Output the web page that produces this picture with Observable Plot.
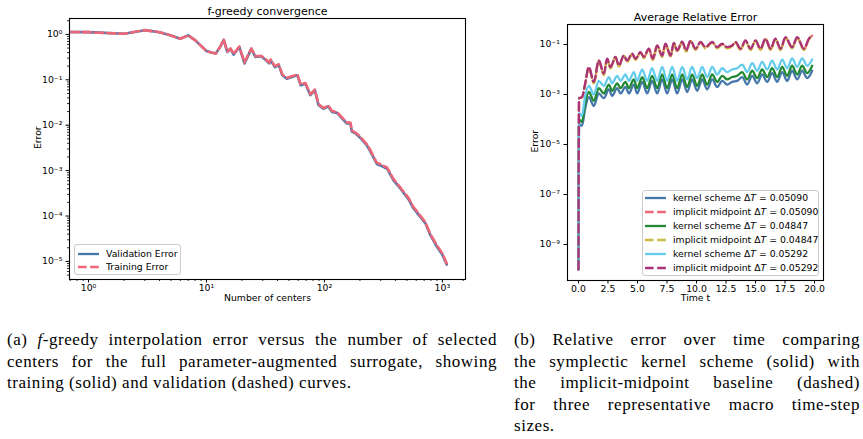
<!DOCTYPE html>
<html>
<head>
<meta charset="utf-8">
<script src="https://cdn.jsdelivr.net/npm/d3@7"></script>
<script src="https://cdn.jsdelivr.net/npm/@observablehq/plot@0.6"></script>
<style>
  html, body { margin: 0; padding: 0; background: #fff; }
  #fig { position: relative; width: 863px; height: 439px; overflow: hidden; background: #fff; }
  .panel { position: absolute; top: 0; }
  .legend { position: absolute; box-sizing: border-box; background: rgba(255,255,255,0.8);
            border: 1px solid #cccccc; border-radius: 3px; font: 9.3px "DejaVu Sans"; color: #000; }
  .legend .row { position: absolute; left: 0; height: 14px; white-space: nowrap; }
  .legend .row svg { position: absolute; left: 0; top: 0; }
  .legend .row span { position: absolute; top: 0; line-height: 14px; }
  .caption { position: absolute; font-family: "Liberation Serif"; font-size: 17px; letter-spacing: 0.55px;
             line-height: 21.5px; color: #000; }
  .caption .ln { white-space: nowrap; text-align: justify; text-align-last: justify; }
  .caption .ln.last { text-align: left; text-align-last: left; }
</style>
</head>
<body>
<div id="fig"></div>
<script>
// ---------- (a) f-greedy convergence ----------
const centers = [0.7, 1, 2, 3, 4, 5, 6, 7, 8, 9, 10, 11, 12, 13, 14, 15, 16, 17, 19, 21, 24, 26, 29, 32, 34, 35, 38, 41, 44, 48, 53, 59, 63, 69, 76, 83, 89, 98, 108, 116, 128, 141, 155, 166, 171, 183, 201, 229, 242, 262, 278, 298, 340, 384, 438, 519, 566, 648, 718, 790, 900, 1000, 1090];
const validationError = [1.13, 1.12, 1.03, 1.24, 1.12, 0.95, 0.80, 0.95, 0.75, 0.56, 0.43, 0.40, 0.38, 0.52, 0.76, 0.41, 0.48, 0.36, 0.53, 0.23, 0.48, 0.32, 0.33, 0.27, 0.23, 0.27, 0.19, 0.21, 0.126, 0.106, 0.115, 0.126, 0.076, 0.082, 0.046, 0.059, 0.028, 0.023, 0.026, 0.0195, 0.0187, 0.0141, 0.0109, 0.0109, 0.0072, 0.0066, 0.0053, 0.0036, 0.0028, 0.0019, 0.0014, 0.0013, 0.0011, 6.2e-4, 4.1e-4, 2.3e-4, 1.5e-4, 9.7e-5, 6.9e-5, 3.8e-5, 2.1e-5, 1.4e-5, 8.5e-6];
const trainingError = [1.13, 1.12, 1.03, 1.24, 1.12, 0.95, 0.80, 0.95, 0.75, 0.56, 0.43, 0.40, 0.38, 0.52, 0.78, 0.42, 0.49, 0.37, 0.54, 0.24, 0.49, 0.33, 0.34, 0.28, 0.24, 0.28, 0.20, 0.22, 0.13, 0.11, 0.12, 0.13, 0.079, 0.085, 0.048, 0.061, 0.029, 0.024, 0.027, 0.0205, 0.0195, 0.0148, 0.0114, 0.0114, 0.0076, 0.0069, 0.0056, 0.0038, 0.0030, 0.0020, 0.0015, 0.00138, 0.00116, 6.6e-4, 4.3e-4, 2.45e-4, 1.6e-4, 1.03e-4, 7.3e-5, 4.0e-5, 2.25e-5, 1.5e-5, 9.0e-6];
const centerMajorTicks = [1, 10, 100, 1000];
const centerMinorTicks = [0.7, 0.8, 0.9, 2, 3, 4, 5, 6, 7, 8, 9, 20, 30, 40, 50, 60, 70, 80, 90, 200, 300, 400, 500, 600, 700, 800, 900, 1500];
const greedyMajorTicks = [1e-5, 1e-4, 1e-3, 1e-2, 1e-1, 1];
const greedyMinorTicks = [5e-6, 6e-6, 7e-6, 8e-6, 9e-6, 2e-5, 3e-5, 4e-5, 5e-5, 6e-5, 7e-5, 8e-5, 9e-5, 2e-4, 3e-4, 4e-4, 5e-4, 6e-4, 7e-4, 8e-4, 9e-4, 2e-3, 3e-3, 4e-3, 5e-3, 6e-3, 7e-3, 8e-3, 9e-3, 2e-2, 3e-2, 4e-2, 5e-2, 6e-2, 7e-2, 8e-2, 9e-2, 0.2, 0.3, 0.4, 0.5, 0.6, 0.7, 0.8, 0.9, 2];

// ---------- (b) average relative error over time ----------
const kernelTimes = [0, 0.05, 0.3, 0.55, 0.88, 1.3, 1.72, 2.15, 2.57, 2.85, 3.28, 3.56, 3.98, 4.27, 4.69, 4.97, 5.4, 5.82, 6.24, 6.67, 7.09, 7.51, 7.94, 8.36, 8.79, 9.21, 9.63, 10.06, 10.48, 10.9, 11.33, 11.75, 12.18, 12.6, 13.02, 13.45, 13.87, 14.29, 14.72, 15.14, 15.56, 15.99, 16.41, 16.84, 17.26, 17.68, 18.1, 18.53, 18.95, 19.38, 19.8];
const midpointTimes = [0, 0.05, 0.3, 0.55, 0.88, 1.3, 1.72, 2.15, 2.43, 2.71, 3.14, 3.42, 3.84, 4.12, 4.55, 4.83, 5.25, 5.54, 5.96, 6.3, 6.67, 7.09, 7.37, 7.8, 8.08, 8.36, 8.79, 9.12, 9.49, 9.92, 10.34, 10.76, 11.33, 11.75, 12.18, 12.6, 13.02, 13.3, 13.73, 14.15, 14.58, 15.0, 15.42, 15.85, 16.27, 16.69, 17.12, 17.54, 18.1, 18.53, 19.1, 19.52, 19.8];
const kernel05090 = [1e-10, 6.3e-5, 5.6e-5, 2.5e-4, 7.9e-4, 3.5e-4, 1.1e-3, 7.1e-4, 1.6e-3, 8.9e-4, 1.8e-3, 1.1e-3, 2.0e-3, 1.1e-3, 2.5e-3, 1.1e-3, 3.2e-3, 1.1e-3, 3.5e-3, 1.1e-3, 4.0e-3, 1.1e-3, 4.0e-3, 1.1e-3, 4.0e-3, 1.26e-3, 4.0e-3, 1.4e-3, 4.0e-3, 1.6e-3, 4.0e-3, 2.0e-3, 3.5e-3, 2.5e-3, 3.2e-3, 3.5e-3, 5.0e-3, 2.5e-3, 5.6e-3, 2.8e-3, 6.3e-3, 3.2e-3, 7.1e-3, 3.2e-3, 7.9e-3, 3.5e-3, 8.9e-3, 4.0e-3, 8.9e-3, 4.5e-3, 8.9e-3];
const midpoint05090 = [1e-10, 7.1e-4, 7.7e-4, 2.4e-3, 1.22e-2, 3.0e-3, 2.25e-2, 6.4e-3, 2.65e-2, 1.18e-2, 3.15e-2, 1.38e-2, 3.55e-2, 2.15e-2, 4.25e-2, 2.55e-2, 4.85e-2, 3.0e-2, 6.7e-2, 2.55e-2, 9.0e-2, 3.4e-2, 0.105, 3.4e-2, 0.113, 5.5e-2, 0.128, 5.5e-2, 0.138, 6.4e-2, 0.123, 7.5e-2, 0.123, 7.5e-2, 0.104, 7.5e-2, 8.8e-2, 0.123, 6.4e-2, 0.142, 6.4e-2, 0.142, 6.4e-2, 0.165, 6.4e-2, 0.165, 6.4e-2, 0.19, 7.5e-2, 0.19, 6.4e-2, 0.165, 0.225];
const kernel04847 = [1e-10, 1.0e-4, 7.9e-5, 4.0e-4, 1.26e-3, 5.6e-4, 1.8e-3, 1.1e-3, 2.5e-3, 1.4e-3, 2.8e-3, 1.8e-3, 3.2e-3, 1.8e-3, 4.0e-3, 1.8e-3, 5.0e-3, 1.8e-3, 5.6e-3, 1.8e-3, 6.3e-3, 1.8e-3, 6.3e-3, 1.8e-3, 6.3e-3, 2.0e-3, 6.3e-3, 2.2e-3, 6.3e-3, 2.5e-3, 6.3e-3, 3.2e-3, 5.6e-3, 4.0e-3, 5.0e-3, 5.6e-3, 7.9e-3, 4.0e-3, 8.9e-3, 4.5e-3, 1.0e-2, 5.0e-3, 1.12e-2, 5.0e-3, 1.26e-2, 5.6e-3, 1.41e-2, 6.3e-3, 1.41e-2, 7.1e-3, 1.41e-2];
const midpoint04847 = [1e-10, 7.1e-4, 7.5e-4, 2.3e-3, 1.2e-2, 2.8e-3, 2.2e-2, 6.0e-3, 2.6e-2, 1.1e-2, 3.1e-2, 1.3e-2, 3.5e-2, 2.0e-2, 4.2e-2, 2.4e-2, 4.8e-2, 2.8e-2, 6.6e-2, 2.4e-2, 8.8e-2, 3.2e-2, 0.104, 3.2e-2, 0.112, 5.2e-2, 0.125, 5.2e-2, 0.135, 6.0e-2, 0.12, 7.0e-2, 0.12, 7.0e-2, 0.10, 7.0e-2, 8.6e-2, 0.12, 6.0e-2, 0.14, 6.0e-2, 0.14, 6.0e-2, 0.16, 6.0e-2, 0.16, 6.0e-2, 0.185, 7.0e-2, 0.185, 6.0e-2, 0.16, 0.22];
const kernel05292 = [1e-10, 1.8e-4, 1.4e-4, 7.9e-4, 2.2e-3, 1.0e-3, 3.5e-3, 2.2e-3, 5.0e-3, 2.8e-3, 5.6e-3, 3.5e-3, 6.3e-3, 3.5e-3, 7.9e-3, 3.5e-3, 1.0e-2, 3.5e-3, 1.12e-2, 3.5e-3, 1.26e-2, 3.5e-3, 1.26e-2, 3.5e-3, 1.26e-2, 4.0e-3, 1.26e-2, 4.5e-3, 1.26e-2, 5.0e-3, 1.26e-2, 6.3e-3, 1.12e-2, 7.9e-3, 1.0e-2, 1.12e-2, 1.58e-2, 7.9e-3, 1.78e-2, 8.9e-3, 2.0e-2, 1.0e-2, 2.24e-2, 1.0e-2, 2.5e-2, 1.12e-2, 2.8e-2, 1.26e-2, 2.8e-2, 1.41e-2, 2.5e-2];
const midpoint05292 = [1e-10, 7.1e-4, 7.9e-4, 2.5e-3, 1.26e-2, 3.2e-3, 2.3e-2, 6.8e-3, 2.7e-2, 1.26e-2, 3.2e-2, 1.45e-2, 3.6e-2, 2.3e-2, 4.3e-2, 2.7e-2, 4.9e-2, 3.2e-2, 6.8e-2, 2.7e-2, 9.1e-2, 3.6e-2, 0.107, 3.6e-2, 0.115, 5.8e-2, 0.13, 5.8e-2, 0.14, 6.8e-2, 0.126, 7.9e-2, 0.126, 7.9e-2, 0.107, 7.9e-2, 9.1e-2, 0.126, 6.8e-2, 0.145, 6.8e-2, 0.145, 6.8e-2, 0.17, 6.8e-2, 0.17, 6.8e-2, 0.195, 7.9e-2, 0.195, 6.8e-2, 0.17, 0.23];
const timeTicks = [0, 2.5, 5, 7.5, 10, 12.5, 15, 17.5, 20];
const relErrTicks = [1e-9, 1e-7, 1e-5, 1e-3, 1e-1];

const seriesNames = ["kernel scheme", "implicit midpoint", "kernel scheme", "implicit midpoint", "kernel scheme", "implicit midpoint"];
const seriesSteps = ["0.05090", "0.05090", "0.04847", "0.04847", "0.05292", "0.05292"];
const seriesColors = ["#4477AA", "#EE6677", "#228833", "#CCBB44", "#66CCEE", "#AA3377"];

// ---------- helpers ----------
const SUP = {"0": "⁰", "1": "¹", "2": "²", "3": "³", "4": "⁴", "5": "⁵", "6": "⁶", "7": "⁷", "8": "⁸", "9": "⁹", "-": "⁻"};
const pow10Label = d => "10" + String(Math.round(Math.log10(d))).replace(/./g, c => SUP[c]);
const blank = () => "";
const DASH = "8.6,3.6";

const fig = document.getElementById("fig");
const baseStyle = {fontFamily: "DejaVu Sans", fontSize: "9.3px", color: "#000", background: "transparent", overflow: "visible"};

// ---------- panel (a) ----------
const greedyRows = centers.map((c, i) => ({c, validation: validationError[i], training: trainingError[i]}));
const plotA = Plot.plot({
  width: 480, height: 310,
  marginLeft: 69, marginRight: 15, marginTop: 18, marginBottom: 31,
  style: baseStyle,
  x: {type: "log", domain: [0.69, 1570]},
  y: {type: "log", domain: [4.0e-6, 2.24]},
  marks: [
    Plot.axisX({ticks: centerMinorTicks, tickSize: 2, tickFormat: blank, label: null, strokeWidth: 0.8}),
    Plot.axisX({ticks: centerMajorTicks, tickSize: 3.5, tickPadding: 1, tickFormat: pow10Label, label: null}),
    Plot.axisY({ticks: greedyMinorTicks, tickSize: 2, tickFormat: blank, label: null, strokeWidth: 0.8}),
    Plot.axisY({ticks: greedyMajorTicks, tickSize: 3.5, tickPadding: 3.5, tickFormat: pow10Label, label: null}),
    Plot.line(greedyRows, {x: "c", y: "validation", stroke: "#4477AA", strokeWidth: 2.6}),
    Plot.line(greedyRows, {x: "c", y: "training", stroke: "#EE6677", strokeWidth: 2.6, strokeDasharray: DASH}),
    Plot.frame({stroke: "#000", strokeWidth: 1.1}),
    Plot.text(["f-greedy convergence"], {frameAnchor: "top", lineAnchor: "middle", dy: -7, fontSize: 11}),
    Plot.text(["Error"], {frameAnchor: "left", lineAnchor: "middle", dx: -31, rotate: -90}),
    Plot.text(["Number of centers"], {frameAnchor: "bottom", lineAnchor: "middle", dy: 19})
  ]
});
plotA.classList.add("panel");
plotA.style.left = "0px";
fig.appendChild(plotA);

// ---------- panel (b) ----------
const seriesValues = [kernel05090, midpoint05090, kernel04847, midpoint04847, kernel05292, midpoint05292];
const seriesMarks = seriesValues.map((vals, k) => {
  const times = k % 2 === 0 ? kernelTimes : midpointTimes;
  const rows = times.map((t, i) => ({t, v: vals[i]}));
  return Plot.line(rows, {
    x: "t", y: "v", curve: "monotone-x",
    stroke: seriesColors[k], strokeWidth: 2.3,
    strokeDasharray: k % 2 === 1 ? DASH : null
  });
});
const plotB = Plot.plot({
  width: 383, height: 310,
  marginLeft: 87, marginRight: 40, marginTop: 24, marginBottom: 30,
  style: baseStyle,
  x: {domain: [-0.93, 20.76]},
  y: {type: "log", domain: [Math.pow(10, -10.44), Math.pow(10, -0.2)]},
  marks: [
    Plot.axisX({ticks: timeTicks, tickSize: 3.5, tickPadding: 1, tickFormat: d => d.toFixed(1), label: null}),
    Plot.axisY({ticks: relErrTicks, tickSize: 3.5, tickPadding: 4, tickFormat: pow10Label, label: null}),
    ...seriesMarks,
    Plot.frame({stroke: "#000", strokeWidth: 1.1}),
    Plot.text(["Average Relative Error"], {frameAnchor: "top", lineAnchor: "middle", dy: -7, fontSize: 11}),
    Plot.text(["Error"], {frameAnchor: "left", lineAnchor: "middle", dx: -32, rotate: -90}),
    Plot.text(["Time t"], {frameAnchor: "bottom", lineAnchor: "middle", dy: 18})
  ]
});
plotB.classList.add("panel");
plotB.style.left = "480px";
fig.appendChild(plotB);

// ---------- legends ----------
function legend(box, entries, rowTop, rowStep, sampleX, textX) {
  const el = document.createElement("div");
  el.className = "legend";
  Object.assign(el.style, {left: box[0] + "px", top: box[1] + "px", width: box[2] + "px", height: box[3] + "px"});
  entries.forEach((e, i) => {
    const row = document.createElement("div");
    row.className = "row";
    row.style.top = (rowTop + i * rowStep - 7) + "px";
    row.style.width = "100%";
    const ns = "http://www.w3.org/2000/svg";
    const svg = document.createElementNS(ns, "svg");
    svg.setAttribute("width", sampleX[1] + 2);
    svg.setAttribute("height", 14);
    const ln = document.createElementNS(ns, "line");
    ln.setAttribute("x1", sampleX[0]); ln.setAttribute("x2", sampleX[1]);
    ln.setAttribute("y1", 7); ln.setAttribute("y2", 7);
    ln.setAttribute("stroke", e.color); ln.setAttribute("stroke-width", 2.3);
    if (e.dash) ln.setAttribute("stroke-dasharray", e.dash);
    svg.appendChild(ln);
    row.appendChild(svg);
    const span = document.createElement("span");
    span.style.left = textX + "px";
    span.innerHTML = e.label;
    row.appendChild(span);
    el.appendChild(row);
  });
  fig.appendChild(el);
}
legend([74, 244, 107, 31], [
  {label: "Validation Error", color: "#4477AA", dash: null},
  {label: "Training Error", color: "#EE6677", dash: DASH}
], 8.5, 13.7, [3, 24], 31);
legend([642, 190, 177, 86], seriesNames.map((n, k) => ({
  label: `${n} Δ<i>T</i> = ${seriesSteps[k]}`,
  color: seriesColors[k],
  dash: k % 2 === 1 ? DASH : null
})), 7, 14, [2, 23], 30);

// ---------- captions ----------
function caption(left, width, lines) {
  const el = document.createElement("div");
  el.className = "caption";
  Object.assign(el.style, {left: left + "px", top: "329px", width: width + "px"});
  lines.forEach((t, i) => {
    const ln = document.createElement("div");
    ln.className = "ln" + (i === lines.length - 1 ? " last" : "");
    ln.innerHTML = t;
    el.appendChild(ln);
  });
  fig.appendChild(el);
}
caption(7, 490, [
  "(a) <i>f</i>-greedy interpolation error versus the number of selected",
  "centers for the full parameter-augmented surrogate, showing",
  "training (solid) and validation (dashed) curves."
]);
caption(514, 346, [
  "(b) Relative error over time comparing",
  "the symplectic kernel scheme (solid) with",
  "the implicit-midpoint baseline (dashed)",
  "for three representative macro time-step",
  "sizes."
]);
</script>
</body>
</html>
